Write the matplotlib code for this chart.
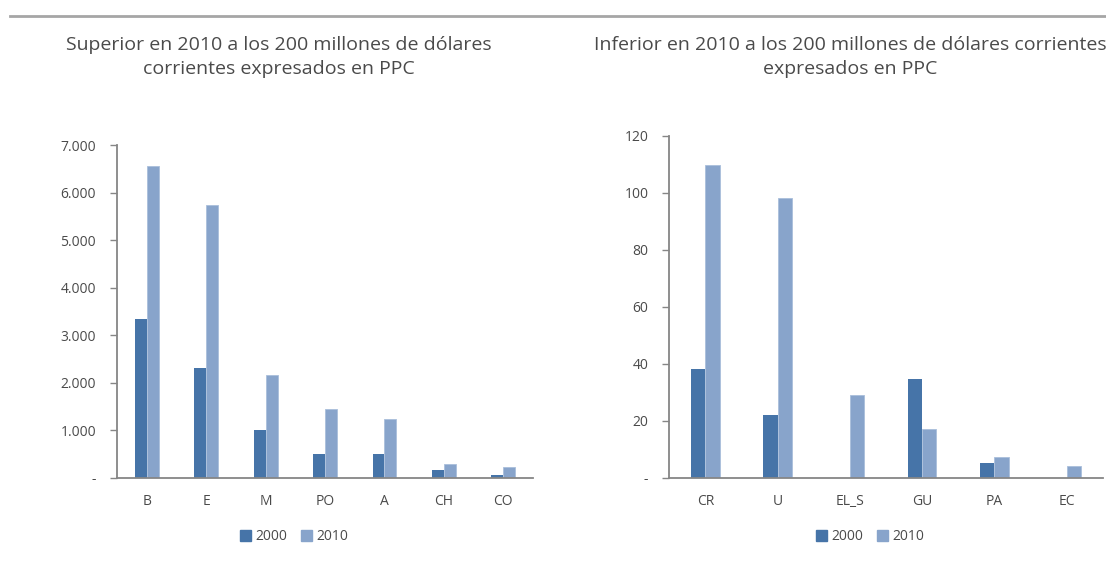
import matplotlib
matplotlib.use("Agg")
import matplotlib.pyplot as plt
import numpy as np
from matplotlib.patches import Patch
from matplotlib.lines import Line2D
from matplotlib.ticker import FuncFormatter

# datos
cat_sup = ["B", "E", "M", "PO", "A", "CH", "CO"]
sup_2000 = [3347, 2300, 1000, 500, 500, 160, 55]
sup_2010 = [6560, 5735, 2160, 1450, 1230, 280, 225]

cat_inf = ["CR", "U", "EL_S", "GU", "PA", "EC"]
inf_2000 = [38.1, 21.9, 0, 34.5, 5.3, 0]
inf_2010 = [109.7, 98.1, 29.1, 17.0, 7.3, 4.0]

c2000 = "#4674a8"
c2010 = "#88a4cb"
gris = "#868686"
texto = "#4a4a4a"

plt.rcParams['font.family'] = ['Open Sans', 'DejaVu Sans']

fig = plt.figure(figsize=(11.06, 5.72), dpi=100)

def fmt_miles(v, pos):
    if v == 0:
        return "-"
    return f"{int(v):,}".replace(",", ".")

def panel(rect, cats, v0, v1, ymax, ystep):
    ax = fig.add_axes(rect)
    x = np.arange(len(cats))
    ax.bar(x - 0.1, v0, width=0.2, color=c2000)
    ax.bar(x + 0.1, v1, width=0.2, color=c2010, edgecolor="#a9bedb", linewidth=0.6)
    ax.set_xlim(-0.5, len(cats) - 0.5)
    ax.set_ylim(0, ymax)
    ax.set_yticks(np.arange(0, ymax + 1, ystep))
    ax.yaxis.set_major_formatter(FuncFormatter(fmt_miles))
    ax.set_xticks(x)
    ax.set_xticklabels(cats)
    for s in ["top", "right"]:
        ax.spines[s].set_visible(False)
    for s in ["left", "bottom"]:
        ax.spines[s].set_color(gris)
        ax.spines[s].set_linewidth(1.3)
    ax.tick_params(axis="y", length=5, width=1, color=gris, labelsize=10,
                   labelcolor=texto, pad=10)
    ax.tick_params(axis="x", length=0, labelsize=10, labelcolor=texto, pad=12)
    return ax

ax1 = panel([0.1058, 0.165, 0.3762, 0.5815], cat_sup, sup_2000, sup_2010, 7000, 1000)
ax2 = panel([0.605, 0.165, 0.392, 0.5978], cat_inf, inf_2000, inf_2010, 120, 20)

# títulos
fig.text(0.252, 0.901, "Superior en 2010 a los 200 millones de dólares\ncorrientes expresados en PPC",
         ha="center", va="center", fontsize=14, color=texto, linespacing=1.42)
fig.text(0.769, 0.901, "Inferior en 2010 a los 200 millones de dólares corrientes\nexpresados en PPC",
         ha="center", va="center", fontsize=14, color=texto, linespacing=1.42)

# línea superior
fig.add_artist(Line2D([0.009, 1.0], [0.972, 0.972], color="#a6a6a6", linewidth=2))

handles = [Patch(color=c2000, label="2000"), Patch(color=c2010, label="2010")]
for cx in [0.266, 0.787]:
    fig.legend(handles=handles, loc="center", bbox_to_anchor=(cx, 0.062), ncol=2,
               frameon=False, fontsize=10, handlelength=0.8, handleheight=0.8,
               handletextpad=0.3, columnspacing=1.0, labelcolor=texto)

fig.savefig("out.png", dpi=100)
